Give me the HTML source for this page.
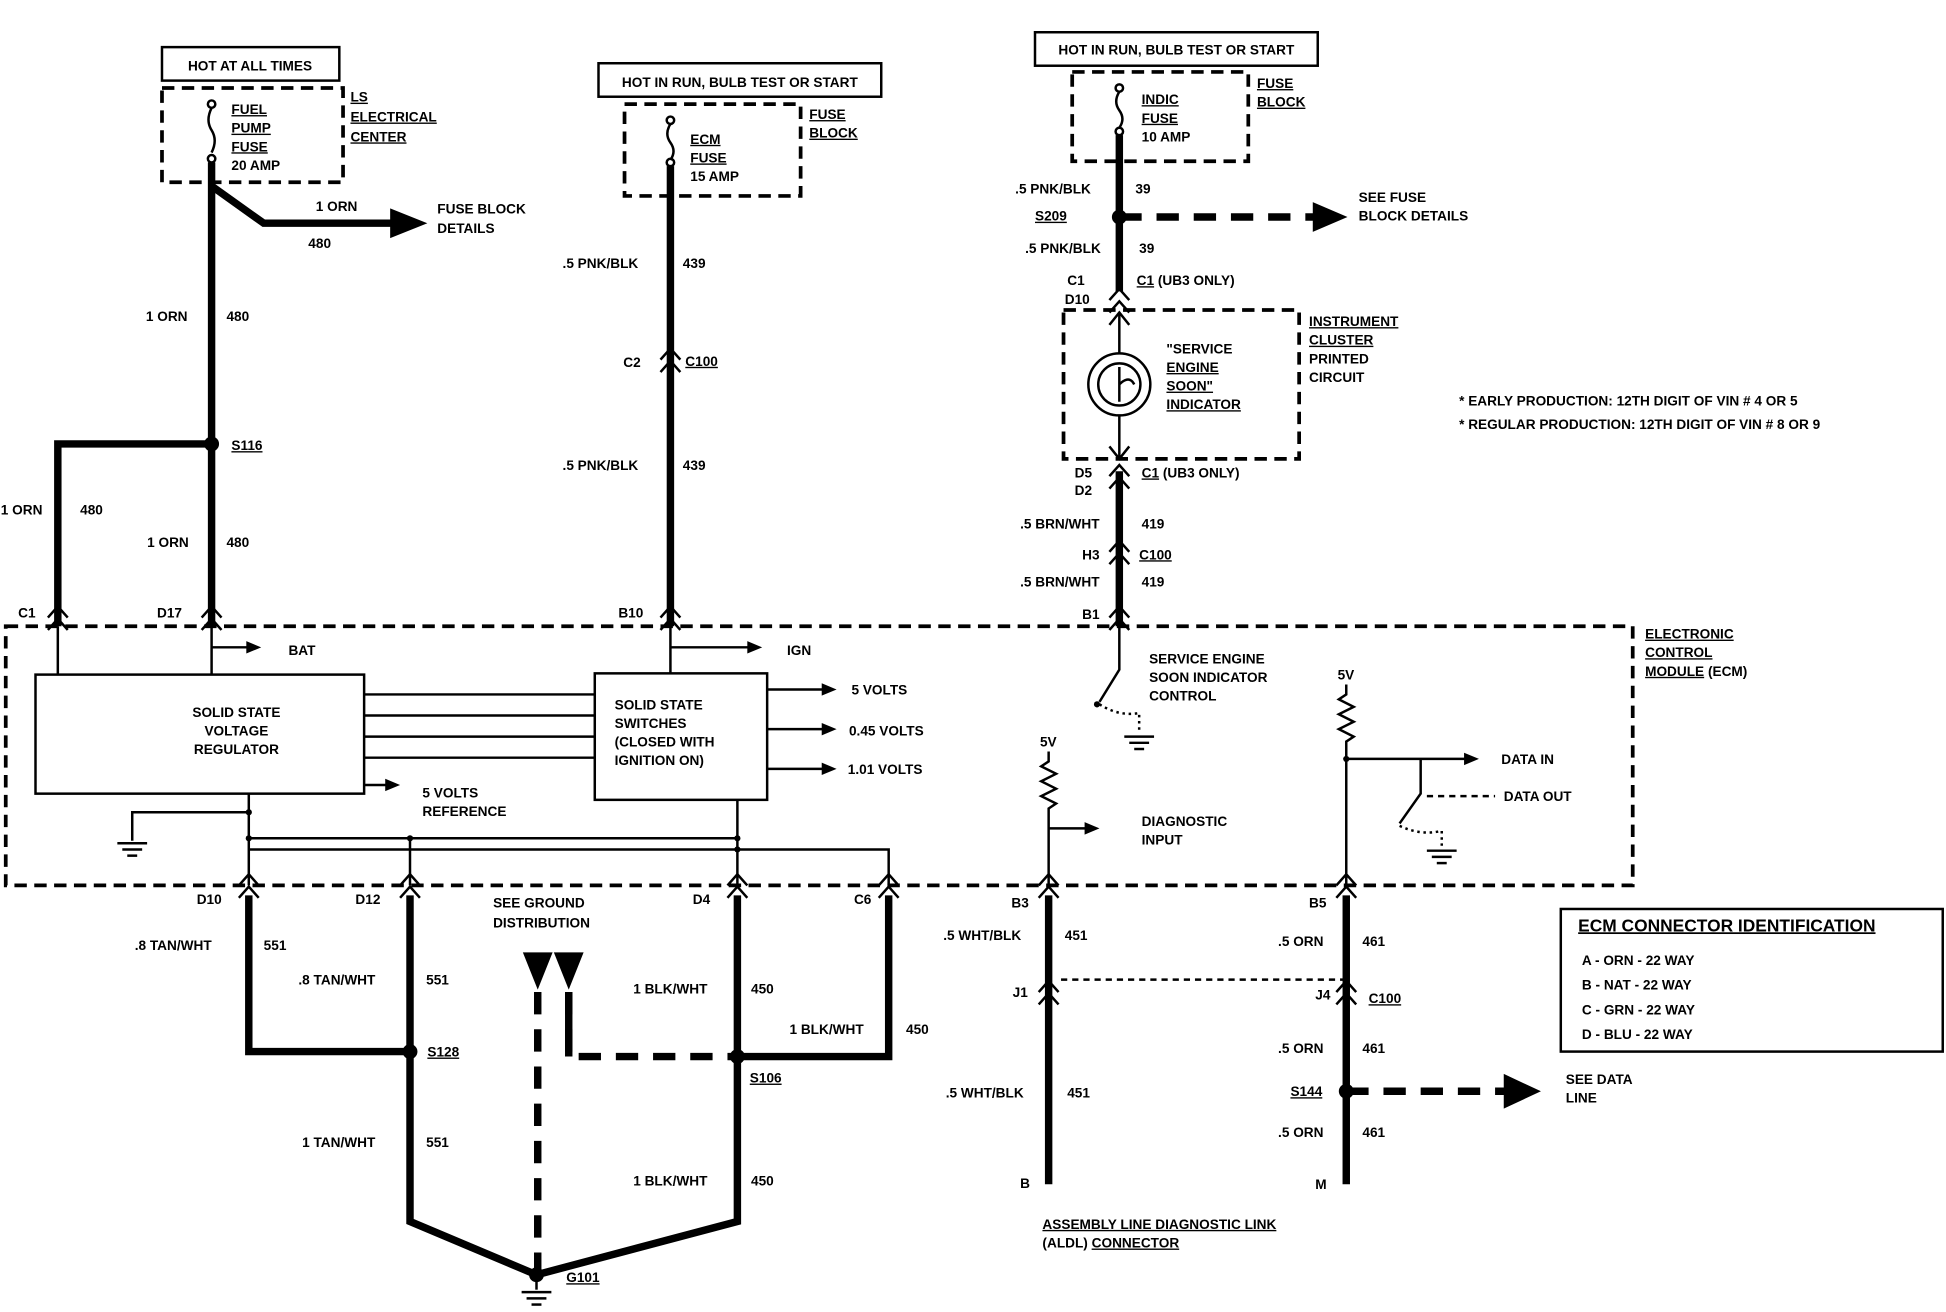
<!DOCTYPE html>
<html><head><meta charset="utf-8"><style>
html,body{margin:0;padding:0;background:#fff;}
svg{display:block;}
text{font-family:"Liberation Sans",sans-serif;font-weight:bold;font-size:11px;fill:#000;}
.w{stroke:#000;stroke-width:6;fill:none;}
.t{stroke:#000;stroke-width:2;fill:none;}
.d{stroke:#000;stroke-width:3;fill:none;stroke-dasharray:10 6;}
.dw{stroke:#000;stroke-width:6;fill:none;stroke-dasharray:18 12;}
</style></head><body>
<svg width="1946" height="1312" viewBox="0 0 1568 1058" xmlns="http://www.w3.org/2000/svg">
<defs>
<g id="ch"><polyline points="-8,10 0,1 8,10" class="t" stroke-width="2.5"/><polyline points="-8,20 0,11 8,20" class="t" stroke-width="2.5"/></g>
<g id="gnd"><line x1="-12" y1="0" x2="12" y2="0" class="t"/><line x1="-8" y1="5" x2="8" y2="5" class="t"/><line x1="-4" y1="10" x2="4" y2="10" class="t"/></g>
</defs>
<rect x="130" y="38" width="143" height="27" class="t"/>
<text x="201" y="57" text-anchor="middle">HOT AT ALL TIMES</text>
<rect x="130" y="71" width="146" height="76" class="d"/>
<circle cx="170" cy="84" r="3" class="t"/><path d="M170 87 q-5 10 0 18 q5 8 0 18" class="t"/><circle cx="170" cy="128" r="3" class="t"/>
<text x="186" y="92" text-decoration="underline">FUEL</text><text x="186" y="107" text-decoration="underline">PUMP</text><text x="186" y="122" text-decoration="underline">FUSE</text><text x="186" y="137">20 AMP</text>
<text x="282" y="82" text-decoration="underline">LS</text><text x="282" y="98" text-decoration="underline">ELECTRICAL</text><text x="282" y="114" text-decoration="underline">CENTER</text>
<path d="M170 131 V505" class="w"/>
<path d="M170 150 L212 180 H318" class="w"/><polygon points="314,168 344,180 314,192"/>
<text x="254" y="170">1 ORN</text><text x="248" y="200">480</text>
<text x="352" y="172">FUSE BLOCK</text><text x="352" y="188">DETAILS</text>
<text x="117" y="259">1 ORN</text><text x="182" y="259">480</text>
<circle cx="170" cy="358" r="6"/><text x="186" y="363" text-decoration="underline">S116</text>
<path d="M170 358 H46 V505" class="w"/>
<text x="0" y="415">1 ORN</text><text x="64" y="415">480</text>
<text x="118" y="441">1 ORN</text><text x="182" y="441">480</text>
<text x="14" y="498">C1</text><text x="126" y="498">D17</text>
<use href="#ch" x="46" y="488"/><use href="#ch" x="170" y="488"/>
<rect x="482" y="51" width="228" height="27" class="t"/>
<text x="596" y="70" text-anchor="middle">HOT IN RUN, BULB TEST OR START</text>
<rect x="503" y="84" width="142" height="74" class="d"/>
<circle cx="540" cy="97" r="3" class="t"/><path d="M540 100 q-5 8 0 15 q5 7 0 14" class="t"/><circle cx="540" cy="131" r="3" class="t"/>
<text x="556" y="116" text-decoration="underline">ECM</text><text x="556" y="131" text-decoration="underline">FUSE</text><text x="556" y="146">15 AMP</text>
<text x="652" y="96" text-decoration="underline">FUSE</text><text x="652" y="111" text-decoration="underline">BLOCK</text>
<path d="M540 134 V505" class="w"/>
<text x="453" y="216">.5 PNK/BLK</text><text x="550" y="216">439</text>
<use href="#ch" x="540" y="280"/><text x="502" y="296">C2</text><text x="552" y="295" text-decoration="underline">C100</text>
<text x="453" y="379">.5 PNK/BLK</text><text x="550" y="379">439</text>
<text x="498" y="498">B10</text><use href="#ch" x="540" y="488"/>
<rect x="834" y="26" width="228" height="27" class="t"/>
<text x="948" y="44" text-anchor="middle">HOT IN RUN, BULB TEST OR START</text>
<rect x="864" y="58" width="142" height="72" class="d"/>
<circle cx="902" cy="71" r="3" class="t"/><path d="M902 74 q-5 8 0 15 q5 7 0 14" class="t"/><circle cx="902" cy="106" r="3" class="t"/>
<text x="920" y="84" text-decoration="underline">INDIC</text><text x="920" y="99" text-decoration="underline">FUSE</text><text x="920" y="114">10 AMP</text>
<text x="1013" y="71" text-decoration="underline">FUSE</text><text x="1013" y="86" text-decoration="underline">BLOCK</text>
<path d="M902 109 V235" class="w"/>
<text x="818" y="156">.5 PNK/BLK</text><text x="915" y="156">39</text>
<circle cx="902" cy="175" r="6"/><text x="834" y="178" text-decoration="underline">S209</text>
<path d="M902 175 H1062" class="dw"/><polygon points="1058,163 1086,175 1058,187"/>
<text x="1095" y="163">SEE FUSE</text><text x="1095" y="178">BLOCK DETAILS</text>
<text x="826" y="204">.5 PNK/BLK</text><text x="918" y="204">39</text>
<text x="860" y="230">C1</text><text x="858" y="245">D10</text><text x="916" y="230"><tspan text-decoration="underline">C1</tspan> (UB3 ONLY)</text>
<use href="#ch" x="902" y="232"/>
<rect x="857" y="250" width="190" height="120" class="d"/>
<path d="M902 252 V285 M902 335 V370" class="t"/>
<polyline points="894,262 902,252 910,262" class="t"/><polyline points="894,360 902,370 910,360" class="t"/>
<circle cx="902" cy="310" r="25" class="t" stroke-width="3"/><circle cx="902" cy="310" r="17" class="t"/>
<path d="M902 296 V324 M902 310 q8 -8 12 0" class="t"/>
<text x="940" y="285">"SERVICE</text><text x="940" y="300" text-decoration="underline">ENGINE</text><text x="940" y="315" text-decoration="underline">SOON"</text><text x="940" y="330" text-decoration="underline">INDICATOR</text>
<text x="1055" y="263" text-decoration="underline">INSTRUMENT</text><text x="1055" y="278" text-decoration="underline">CLUSTER</text><text x="1055" y="293">PRINTED</text><text x="1055" y="308">CIRCUIT</text>
<text x="866" y="385">D5</text><text x="866" y="399">D2</text><text x="920" y="385"><tspan text-decoration="underline">C1</tspan> (UB3 ONLY)</text>
<use href="#ch" x="902" y="374"/>
<path d="M902 380 V505" class="w"/>
<text x="822" y="426">.5 BRN/WHT</text><text x="920" y="426">419</text>
<use href="#ch" x="902" y="435"/><text x="872" y="451">H3</text><text x="918" y="451" text-decoration="underline">C100</text>
<text x="822" y="473">.5 BRN/WHT</text><text x="920" y="473">419</text>
<text x="872" y="499">B1</text><use href="#ch" x="902" y="488"/>
<text x="1176" y="327">*    EARLY PRODUCTION: 12TH DIGIT OF VIN # 4 OR 5</text>
<text x="1176" y="346">*    REGULAR PRODUCTION: 12TH DIGIT OF VIN # 8 OR 9</text>
<rect x="4" y="505" width="1312" height="209" class="d"/>
<text x="1326" y="515" text-decoration="underline">ELECTRONIC</text><text x="1326" y="530" text-decoration="underline">CONTROL</text><text x="1326" y="545"><tspan text-decoration="underline">MODULE</tspan> (ECM)</text>
<path d="M46 505 V544 M170 505 V544 M540 505 V543" class="t"/>
<path d="M170 522 H200" class="t"/><polygon points="198,517 210,522 198,527"/><text x="232" y="528">BAT</text>
<path d="M540 522 H604" class="t"/><polygon points="602,517 614,522 602,527"/><text x="634" y="528">IGN</text>
<rect x="28" y="544" width="265" height="96" class="t" stroke-width="3"/>
<text x="190" y="578" text-anchor="middle">SOLID STATE</text><text x="190" y="593" text-anchor="middle">VOLTAGE</text><text x="190" y="608" text-anchor="middle">REGULATOR</text>
<rect x="479" y="543" width="139" height="102" class="t" stroke-width="3"/>
<text x="495" y="572">SOLID STATE</text><text x="495" y="587">SWITCHES</text><text x="495" y="602">(CLOSED WITH</text><text x="495" y="617">IGNITION ON)</text>
<path d="M293 560 H479 M293 577 H479 M293 594 H479 M293 611 H479" class="t"/>
<path d="M293 633 H312" class="t"/><polygon points="310,628 322,633 310,638"/>
<text x="340" y="643">5 VOLTS</text><text x="340" y="658">REFERENCE</text>
<path d="M618 556 H664 M618 588 H664 M618 620 H664" class="t"/>
<polygon points="662,551 674,556 662,561"/><polygon points="662,583 674,588 662,593"/><polygon points="662,615 674,620 662,625"/>
<text x="686" y="560">5 VOLTS</text><text x="684" y="593">0.45 VOLTS</text><text x="683" y="624">1.01 VOLTS</text>
<path d="M200 640 V714 M200 655 H106 V678 M200 676 H594 M330 676 V714 M594 645 V714 M200 685 H716 V714" class="t"/>
<circle cx="200" cy="655" r="2.5"/><circle cx="200" cy="676" r="2.5"/><circle cx="330" cy="676" r="2.5"/><circle cx="594" cy="676" r="2.5"/><circle cx="594" cy="685" r="2.5"/>
<use href="#gnd" x="106" y="680"/>
<path d="M902 505 V540 L886 566" class="t"/><circle cx="884" cy="568" r="2.5"/>
<path d="M886 568 Q902 578 918 575 V590" class="t" stroke-dasharray="2 3"/>
<use href="#gnd" x="918" y="594"/>
<text x="926" y="535">SERVICE ENGINE</text><text x="926" y="550">SOON INDICATOR</text><text x="926" y="565">CONTROL</text>
<text x="838" y="602">5V</text>
<path d="M845 606 V614 l-6 4 l12 6 l-12 6 l12 6 l-12 6 l12 6 l-6 4 V714 M845 668 H876" class="t"/>
<polygon points="874,663 886,668 874,673"/>
<text x="920" y="666">DIAGNOSTIC</text><text x="920" y="681">INPUT</text>
<text x="1078" y="548">5V</text>
<path d="M1085 552 V560 l-6 4 l12 6 l-12 6 l12 6 l-12 6 l12 6 l-6 4 V714 M1085 612 H1182 M1145 612 V640 L1128 664" class="t"/>
<polygon points="1180,607 1192,612 1180,617"/><circle cx="1085" cy="612" r="2.5"/>
<text x="1210" y="616">DATA IN</text>
<path d="M1150 642 H1205" class="t" stroke-dasharray="5 4"/><text x="1212" y="646">DATA OUT</text>
<path d="M1128 666 Q1145 674 1162 670 V682" class="t" stroke-dasharray="2 3"/>
<use href="#gnd" x="1162" y="686"/>
<use href="#ch" x="200" y="704"/><use href="#ch" x="330" y="704"/><use href="#ch" x="594" y="704"/><use href="#ch" x="716" y="704"/>
<use href="#ch" x="845" y="704"/><use href="#ch" x="1085" y="704"/>
<text x="158" y="729">D10</text><text x="286" y="729">D12</text><text x="558" y="729">D4</text><text x="688" y="729">C6</text>
<path d="M200 722 V848 H330" class="w"/>
<path d="M330 722 V985 L432 1028 L594 985 V722" class="w"/>
<path d="M716 722 V852 H594" class="w"/>
<circle cx="330" cy="848" r="6"/><circle cx="594" cy="852" r="6"/>
<text x="344" y="852" text-decoration="underline">S128</text><text x="604" y="873" text-decoration="underline">S106</text>
<text x="108" y="766">.8 TAN/WHT</text><text x="212" y="766">551</text>
<text x="240" y="794">.8 TAN/WHT</text><text x="343" y="794">551</text>
<text x="243" y="925">1 TAN/WHT</text><text x="343" y="925">551</text>
<text x="510" y="801">1 BLK/WHT</text><text x="605" y="801">450</text>
<text x="636" y="834">1 BLK/WHT</text><text x="730" y="834">450</text>
<text x="510" y="956">1 BLK/WHT</text><text x="605" y="956">450</text>
<text x="397" y="732">SEE GROUND</text><text x="397" y="748">DISTRIBUTION</text>
<polygon points="421,768 445,768 433,798"/><polygon points="446,768 470,768 458,798"/>
<path d="M433 800 V1028" class="dw"/>
<path d="M458 800 V852 H594" class="dw"/>
<path d="M458 800 V852" class="w"/>
<circle cx="432" cy="1028" r="6"/><path d="M432 1028 V1040" class="t"/><use href="#gnd" x="432" y="1042"/>
<text x="456" y="1034" text-decoration="underline">G101</text>
<path d="M845 722 V955 M1085 722 V955" class="w"/>
<text x="815" y="732">B3</text><text x="1055" y="732">B5</text>
<text x="760" y="758">.5 WHT/BLK</text><text x="858" y="758">451</text>
<text x="1030" y="763">.5 ORN</text><text x="1098" y="763">461</text>
<path d="M855 790 H1085" class="t" stroke-width="1.5" stroke-dasharray="5 4"/>
<use href="#ch" x="845" y="790"/><use href="#ch" x="1085" y="790"/>
<text x="816" y="804">J1</text><text x="1060" y="806">J4</text><text x="1103" y="809" text-decoration="underline">C100</text>
<text x="1030" y="849">.5 ORN</text><text x="1098" y="849">461</text>
<circle cx="1085" cy="880" r="6"/><text x="1040" y="884" text-decoration="underline">S144</text>
<path d="M1085 880 H1214" class="dw"/><polygon points="1212,866 1242,880 1212,894"/>
<text x="1262" y="874">SEE DATA</text><text x="1262" y="889">LINE</text>
<text x="762" y="885">.5 WHT/BLK</text><text x="860" y="885">451</text>
<text x="1030" y="917">.5 ORN</text><text x="1098" y="917">461</text>
<text x="822" y="958">B</text><text x="1060" y="959">M</text>
<text x="840" y="991" text-decoration="underline">ASSEMBLY LINE DIAGNOSTIC LINK</text>
<text x="840" y="1006"><tspan>(ALDL)</tspan> <tspan text-decoration="underline">CONNECTOR</tspan></text>
<rect x="1258" y="733" width="308" height="115" class="t"/>
<text x="1272" y="751" style="font-size:14px" text-decoration="underline">ECM CONNECTOR IDENTIFICATION</text>
<text x="1275" y="778">A - ORN - 22 WAY</text>
<text x="1275" y="798">B - NAT - 22 WAY</text>
<text x="1275" y="818">C - GRN - 22 WAY</text>
<text x="1275" y="838">D - BLU - 22 WAY</text>
</svg>
</body></html>
